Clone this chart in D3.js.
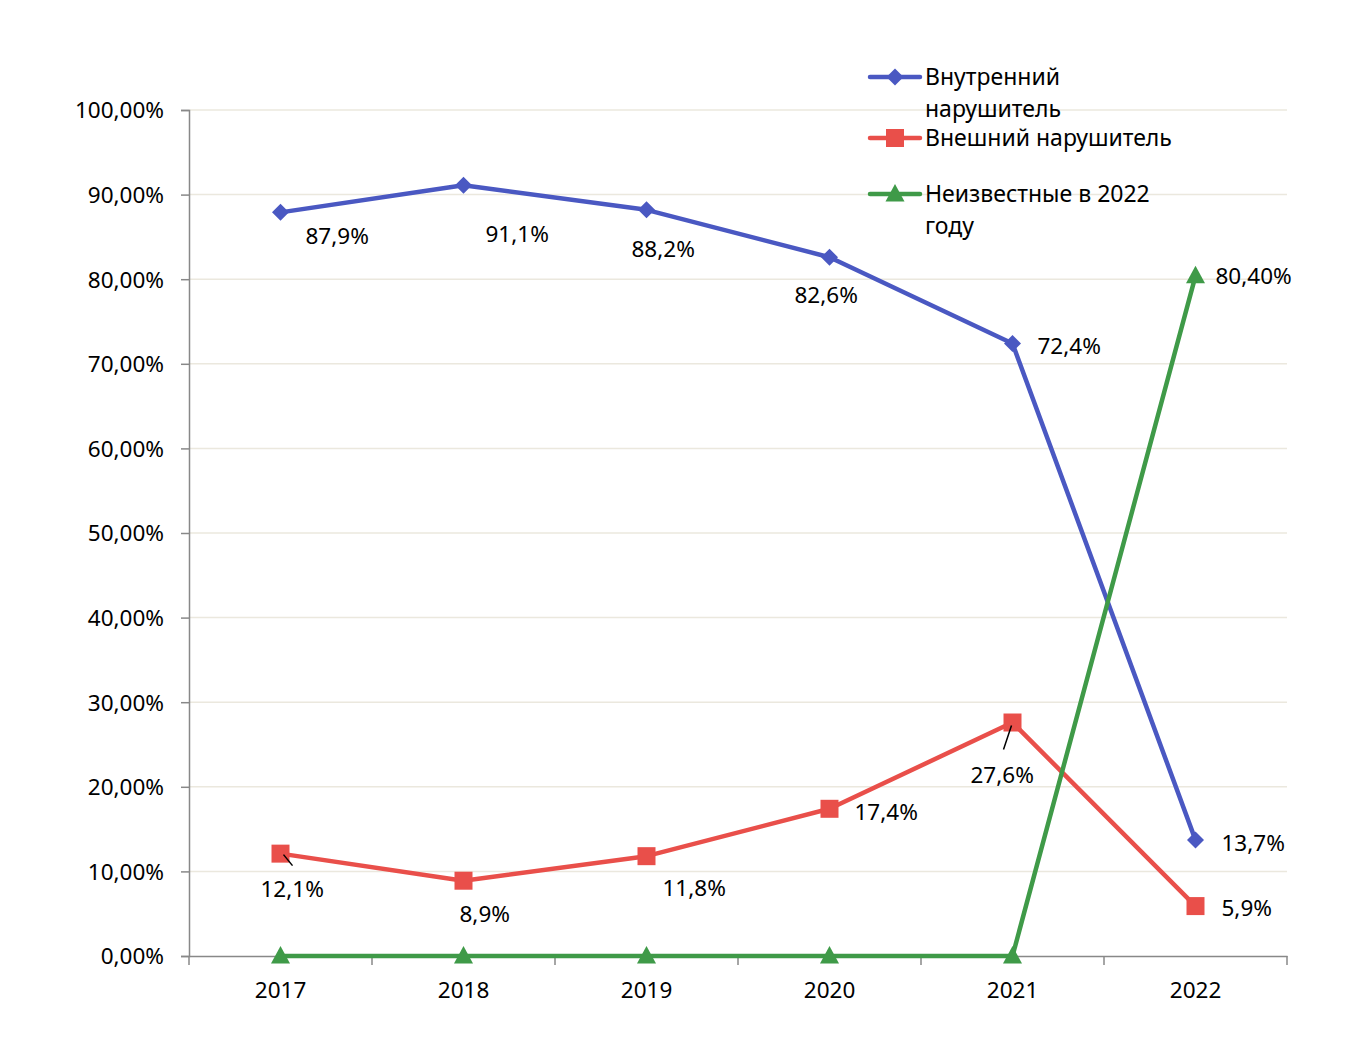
<!DOCTYPE html>
<html>
<head>
<meta charset="utf-8">
<script src="https://cdn.jsdelivr.net/npm/d3@7"></script>
<style>
  body { margin: 0; background: #fff; }
  text { font-family: "Noto Sans", "Open Sans", sans-serif; fill: #000; }
</style>
</head>
<body>
<svg id="chart" width="1352" height="1050"></svg>
<script>
// data
let years = ["2017", "2018", "2019", "2020", "2021", "2022"];
let internal_vals = [87.9, 91.1, 88.2, 82.6, 72.4, 13.7];
let external_vals = [12.1, 8.9, 11.8, 17.4, 27.6, 5.9];
let unknown_vals = [0, 0, 0, 0, 0, 80.4];
let internal_labels = ["87,9%", "91,1%", "88,2%", "82,6%", "72,4%", "13,7%"];
let external_labels = ["12,1%", "8,9%", "11,8%", "17,4%", "27,6%", "5,9%"];
let unknown_labels = [null, null, null, null, null, "80,40%"];
let y_ticks = [0, 10, 20, 30, 40, 50, 60, 70, 80, 90, 100];

// label offsets (dx, dy from point, text anchor start)
let internal_off = [[25, 32], [22, 57], [-15, 47], [-35, 46], [25, 11], [26, 11]];
let external_off = [[-20, 43], [-4, 41], [16, 40], [25, 11], [-42, 60], [26, 10]];
let unknown_off = [null, null, null, null, null, [20, 8]];

let series = [
    {name: ["Внутренний", "нарушитель"], vals: internal_vals, labels: internal_labels, off: internal_off, color: "#4a58c2", marker: "diamond"},
    {name: ["Внешний нарушитель"], vals: external_vals, labels: external_labels, off: external_off, color: "#e94f4a", marker: "square"},
    {name: ["Неизвестные в 2022", "году"], vals: unknown_vals, labels: unknown_labels, off: unknown_off, color: "#3f9a48", marker: "triangle"},
];

let margin = ({top: 110, right: 65, bottom: 94, left: 189});
let width = 1352, height = 1050;
let fs = 22.5;
let svg = d3.select("#chart");

let x = d3.scaleBand()
    .domain(years)
    .range([margin.left, width - margin.right]);
let y = d3.scaleLinear()
    .domain([0, 100])
    .range([height - margin.bottom, margin.top]);

// grid
svg.append("g")
    .selectAll("line")
    .data(y_ticks.filter(d => d > 0))
    .join("line")
    .attr("x1", margin.left).attr("x2", width - margin.right)
    .attr("y1", d => y(d)).attr("y2", d => y(d))
    .attr("stroke", "#ebe8de").attr("stroke-width", 1.5);

// y axis
let y_axis = g => g
    .attr("transform", `translate(${margin.left}, 0)`)
    .call(d3.axisLeft(y).tickValues(y_ticks).tickSize(8).tickPadding(17)
        .tickFormat(d => d3.format(".2f")(d).replace(".", ",") + "%"))
    .call(g => g.select(".domain").attr("stroke", "#888").attr("stroke-width", 1.5))
    .call(g => g.selectAll(".tick line").attr("stroke", "#888").attr("stroke-width", 1.5))
    .call(g => g.selectAll(".tick text").attr("font-size", fs).attr("dy", "0.35em")
        .style("font-family", "'Noto Sans', sans-serif"));
svg.append("g").call(y_axis);

// x axis
let x_axis = g => g
    .attr("transform", `translate(0, ${height - margin.bottom})`)
    .call(d3.axisBottom(x).tickSize(0).tickPadding(26))
    .call(g => g.select(".domain").attr("stroke", "#888").attr("stroke-width", 1.5))
    .call(g => g.selectAll(".tick text").attr("font-size", fs)
        .style("font-family", "'Noto Sans', sans-serif"));
svg.append("g").call(x_axis);

// x band tick marks
let bounds = years.map(d => x(d)).concat([x(years[years.length - 1]) + x.bandwidth()]);
svg.append("g")
    .selectAll("line")
    .data(bounds)
    .join("line")
    .attr("x1", d => d).attr("x2", d => d)
    .attr("y1", height - margin.bottom).attr("y2", height - margin.bottom + 9)
    .attr("stroke", "#888").attr("stroke-width", 1.5);

let cx = d => x(d) + x.bandwidth() / 2;

function marker_path(type) {
    if (type == "diamond") return "M0,-8.5L8.5,0L0,8.5L-8.5,0Z";
    if (type == "square") return "M-9,-9H9V9H-9Z";
    return "M0,-10L9.5,7.5L-9.5,7.5Z";
}

let line = d3.line()
    .x((d, i) => cx(years[i]))
    .y(d => y(d));

series.forEach(s => {
    svg.append("path")
        .datum(s.vals)
        .attr("fill", "none")
        .attr("stroke", s.color)
        .attr("stroke-width", 4.5)
        .attr("stroke-linejoin", "round")
        .attr("d", line);
});

series.forEach(s => {
    svg.append("g")
        .selectAll("path")
        .data(s.vals)
        .join("path")
        .attr("transform", (d, i) => `translate(${cx(years[i])}, ${y(d)})`)
        .attr("d", marker_path(s.marker))
        .attr("fill", s.color);
});

// leader lines for 2017 and 2021 external labels
let leaders = [[0, 3, 1, 12, 12], [4, -1, 3, -9, 27]];
leaders.forEach(([i, x1, y1, x2, y2]) => {
    let px = cx(years[i]), py = y(external_vals[i]);
    svg.append("line")
        .attr("x1", px + x1).attr("y1", py + y1)
        .attr("x2", px + x2).attr("y2", py + y2)
        .attr("stroke", "#000").attr("stroke-width", 1.5);
});

// data labels
series.forEach(s => {
    s.vals.forEach((v, i) => {
        if (!s.labels[i]) return;
        svg.append("text")
            .attr("x", cx(years[i]) + s.off[i][0])
            .attr("y", y(v) + s.off[i][1])
            .attr("font-size", fs)
            .text(s.labels[i]);
    });
});

// legend
let legend_y = [77, 138, 194];
series.forEach((s, i) => {
    let g = svg.append("g").attr("transform", `translate(870, ${legend_y[i]})`);
    g.append("line").attr("x1", 0).attr("x2", 50)
        .attr("stroke", s.color).attr("stroke-width", 4.5).attr("stroke-linecap", "round");
    g.append("path").attr("transform", "translate(25,0)")
        .attr("d", marker_path(s.marker)).attr("fill", s.color);
    s.name.forEach((t, j) => {
        g.append("text")
            .attr("x", 55).attr("y", j * 32)
            .attr("dy", "0.35em")
            .attr("font-size", 23)
            .text(t);
    });
});
</script>
</body>
</html>
